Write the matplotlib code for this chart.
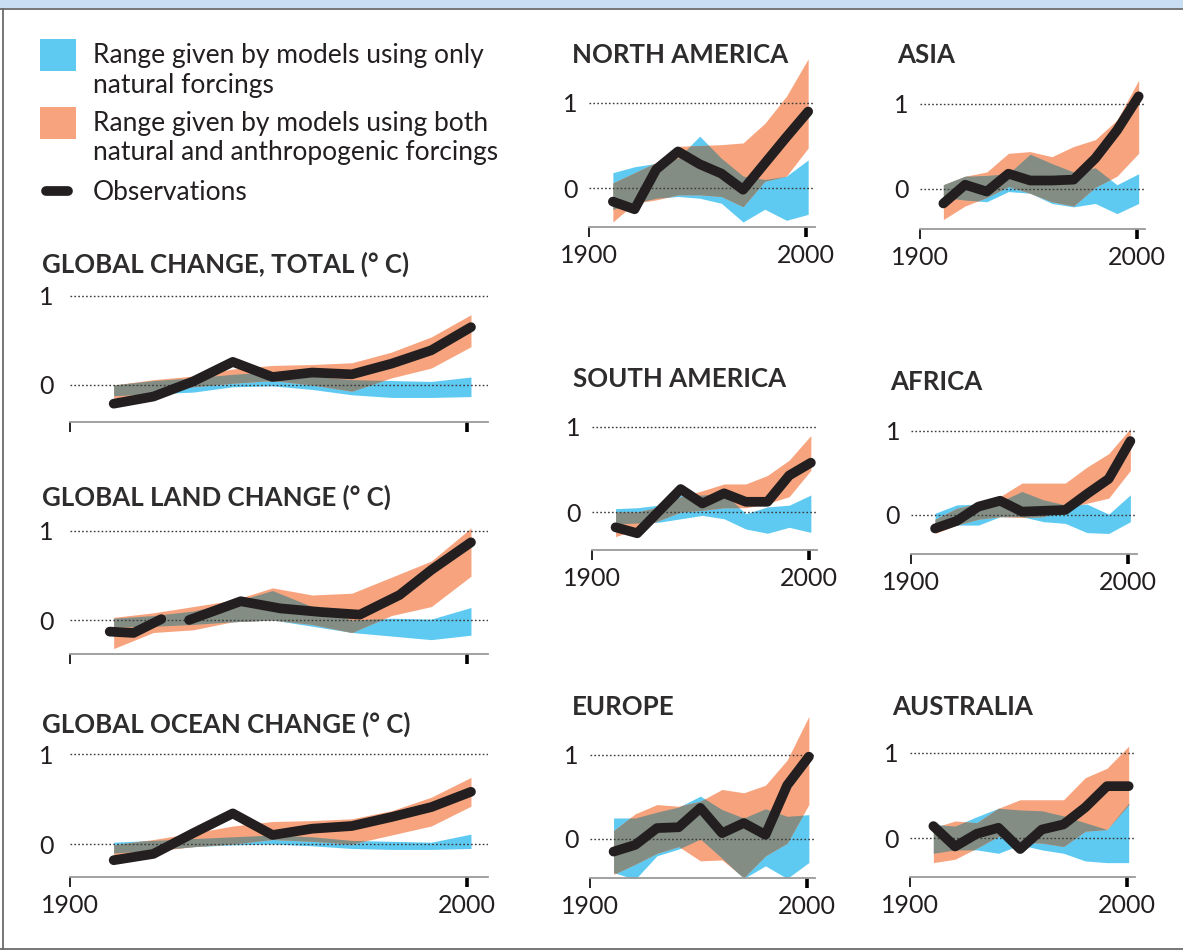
import numpy as np
import matplotlib
matplotlib.use("Agg")
import matplotlib.pyplot as plt
from matplotlib.lines import Line2D
from matplotlib.patches import Rectangle

plt.rcParams['font.family'] = ['Lato', 'DejaVu Sans']

W, H, DPI = 1183, 951, 100

BLUE = '#5ECAF2'
ORANGE = '#F7A47E'
OVERLAP = '#838D84'
OBS_COLOR = '#231F20'
TEXT = '#231F20'
TITLE = '#2E2C2D'

# ---------------------------------------------------------------- data
DECADES = [1911, 1921, 1931, 1941, 1951, 1961, 1971, 1981, 1991, 2001]

# Global, total
GT_OBS    = [-0.21, -0.13, 0.04, 0.26, 0.09, 0.14, 0.12, 0.24, 0.39, 0.65]
GT_NAT_LO = [-0.12, -0.10, -0.08, -0.02, -0.01, -0.05, -0.11, -0.14, -0.14, -0.13]
GT_NAT_HI = [0.00, 0.05, 0.08, 0.12, 0.15, 0.10, 0.06, 0.05, 0.04, 0.09]
GT_ALL_LO = [-0.15, -0.08, -0.02, 0.02, 0.05, 0.00, -0.07, 0.08, 0.19, 0.43]
GT_ALL_HI = [0.00, 0.06, 0.10, 0.18, 0.22, 0.23, 0.25, 0.37, 0.54, 0.79]

# Global, land (observed record has a break in the 1920s)
GL_OBS_YEARS = [1910, 1916, 1923, 1926, 1930, 1943, 1953, 1963, 1973, 1983, 1991, 2001]
GL_OBS    = [-0.13, -0.145, 0.01, np.nan, 0.00, 0.21, 0.13, 0.09, 0.06, 0.28, 0.56, 0.87]
GL_NAT_LO = [-0.08, -0.07, -0.05, -0.02, 0.00, -0.07, -0.14, -0.18, -0.22, -0.17]
GL_NAT_HI = [0.02, 0.05, 0.10, 0.20, 0.33, 0.15, 0.00, 0.02, 0.01, 0.14]
GL_ALL_LO = [-0.32, -0.14, -0.11, -0.02, 0.00, -0.05, -0.14, 0.05, 0.15, 0.49]
GL_ALL_HI = [0.03, 0.08, 0.15, 0.22, 0.36, 0.28, 0.30, 0.48, 0.66, 1.03]

# Global, ocean
GO_OBS    = [-0.18, -0.11, 0.12, 0.34, 0.10, 0.17, 0.20, 0.30, 0.41, 0.58]
GO_NAT_LO = [-0.10, -0.07, -0.03, -0.01, 0.00, -0.02, -0.05, -0.06, -0.06, -0.05]
GO_NAT_HI = [0.02, 0.04, 0.06, 0.08, 0.10, 0.08, 0.04, 0.03, 0.02, 0.11]
GO_ALL_LO = [-0.12, -0.08, -0.03, 0.00, 0.05, 0.03, 0.00, 0.10, 0.20, 0.42]
GO_ALL_HI = [-0.01, 0.05, 0.12, 0.20, 0.25, 0.26, 0.28, 0.37, 0.52, 0.74]

# North America
NA_OBS    = [-0.16, -0.25, 0.22, 0.43, 0.28, 0.17, -0.02, 0.29, 0.60, 0.90]
NA_NAT_LO = [-0.25, -0.18, -0.12, -0.10, -0.12, -0.18, -0.40, -0.25, -0.38, -0.31]
NA_NAT_HI = [0.18, 0.25, 0.29, 0.35, 0.61, 0.35, 0.14, 0.10, 0.14, 0.33]
NA_ALL_LO = [-0.40, -0.18, -0.14, -0.08, -0.08, -0.10, -0.22, 0.08, 0.14, 0.47]
NA_ALL_HI = [0.06, 0.18, 0.30, 0.49, 0.50, 0.51, 0.53, 0.76, 1.08, 1.52]

# Asia
AS_OBS    = [-0.17, 0.05, -0.03, 0.18, 0.10, 0.10, 0.11, 0.36, 0.69, 1.09]
AS_NAT_LO = [-0.10, -0.13, -0.15, -0.03, -0.05, -0.17, -0.21, -0.17, -0.29, -0.17]
AS_NAT_HI = [0.05, 0.15, 0.16, 0.18, 0.41, 0.30, 0.20, 0.25, 0.05, 0.18]
AS_ALL_LO = [-0.36, -0.20, -0.10, 0.03, -0.05, -0.15, -0.20, 0.02, 0.15, 0.42]
AS_ALL_HI = [0.05, 0.15, 0.20, 0.42, 0.44, 0.38, 0.50, 0.58, 0.81, 1.28]

# South America
SA_OBS    = [-0.18, -0.25, 0.01, 0.27, 0.10, 0.22, 0.12, 0.12, 0.43, 0.58]
SA_NAT_LO = [-0.14, -0.13, -0.12, -0.08, -0.04, -0.08, -0.20, -0.25, -0.18, -0.24]
SA_NAT_HI = [0.04, 0.05, 0.08, 0.20, 0.20, 0.22, -0.02, 0.06, 0.08, 0.20]
SA_ALL_LO = [-0.29, -0.20, -0.10, 0.00, 0.02, 0.05, 0.05, 0.10, 0.18, 0.49]
SA_ALL_HI = [0.00, 0.00, 0.06, 0.18, 0.25, 0.33, 0.33, 0.43, 0.61, 0.90]

# Africa
AF_OBS    = [-0.16, -0.07, 0.10, 0.17, 0.04, 0.05, 0.06, 0.25, 0.43, 0.88]
AF_NAT_LO = [-0.18, -0.12, -0.12, -0.02, -0.02, -0.08, -0.10, -0.21, -0.22, -0.08]
AF_NAT_HI = [0.02, 0.12, 0.13, 0.16, 0.28, 0.18, 0.12, 0.13, 0.01, 0.24]
AF_ALL_LO = [-0.22, -0.12, -0.05, -0.02, -0.03, -0.02, 0.08, 0.14, 0.20, 0.53]
AF_ALL_HI = [-0.05, 0.08, 0.14, 0.22, 0.38, 0.38, 0.38, 0.57, 0.73, 1.03]

# Europe
EU_OBS    = [-0.15, -0.07, 0.13, 0.14, 0.37, 0.07, 0.19, 0.05, 0.64, 0.98]
EU_NAT_LO = [-0.40, -0.48, -0.20, -0.12, 0.00, -0.23, -0.47, -0.32, -0.47, -0.28]
EU_NAT_HI = [0.25, 0.25, 0.32, 0.38, 0.51, 0.35, 0.25, 0.36, 0.27, 0.29]
EU_ALL_LO = [-0.42, -0.30, -0.17, -0.09, -0.26, -0.25, -0.46, -0.20, -0.05, 0.41]
EU_ALL_HI = [0.10, 0.30, 0.41, 0.39, 0.45, 0.59, 0.55, 0.64, 0.94, 1.46]

# Australia
AU_OBS    = [0.14, -0.10, 0.05, 0.12, -0.13, 0.10, 0.16, 0.36, 0.61, 0.61]
AU_NAT_LO = [-0.18, -0.14, -0.14, -0.18, -0.08, -0.14, -0.18, -0.27, -0.29, -0.29]
AU_NAT_HI = [0.16, 0.14, 0.25, 0.35, 0.33, 0.32, 0.26, 0.18, 0.10, 0.41]
AU_ALL_LO = [-0.29, -0.25, -0.12, 0.02, -0.05, -0.06, -0.10, 0.08, 0.10, 0.39]
AU_ALL_HI = [0.12, 0.20, 0.18, 0.35, 0.45, 0.45, 0.45, 0.71, 0.82, 1.08]

LEGEND_LABELS = [
    ["Range given by models using only", "natural forcings"],
    ["Range given by models using both", "natural and anthropogenic forcings"],
    ["Observations"],
]

# ---------------------------------------------------------------- figure
fig = plt.figure(figsize=(W / DPI, H / DPI), dpi=DPI)
fig.patch.set_facecolor('white')


def fx(px):
    return px / W


def fy(py):
    return 1 - py / H


# page frame: pale band at the top, thin rules on top, left and bottom
fig.add_artist(Rectangle((0, fy(8)), 1, 8 / H, transform=fig.transFigure,
                         facecolor='#C9DEF2', edgecolor='none'))
fig.add_artist(Line2D([0, 1], [fy(8.5), fy(8.5)], transform=fig.transFigure,
                      color='#6B6B6B', lw=1.3))
fig.add_artist(Line2D([fx(2.5), fx(2.5)], [fy(8.5), fy(948.5)], transform=fig.transFigure,
                      color='#6B6B6B', lw=1.3))
fig.add_artist(Line2D([0, 1], [fy(948.5), fy(948.5)], transform=fig.transFigure,
                      color='#6B6B6B', lw=1.3))

# legend
fig.add_artist(Rectangle((fx(40), fy(71)), 36 / W, 32 / H, transform=fig.transFigure,
                         facecolor=BLUE, edgecolor='none'))
fig.add_artist(Rectangle((fx(40), fy(139)), 36 / W, 32 / H, transform=fig.transFigure,
                         facecolor=ORANGE, edgecolor='none'))
fig.add_artist(Line2D([fx(46), fx(68)], [fy(191), fy(191)], transform=fig.transFigure,
                      color=OBS_COLOR, lw=7, solid_capstyle='round'))
legend_baselines = [[63, 93], [131, 160], [200]]
for lines, bases in zip(LEGEND_LABELS, legend_baselines):
    for txt, b in zip(lines, bases):
        fig.text(fx(93), fy(b), txt, fontsize=19, color=TEXT, va='baseline', ha='left')


def add_panel(x1900, px_per_year, y_zero, px_per_unit, xlim, ylim):
    left = x1900 + (xlim[0] - 1900) * px_per_year
    right = x1900 + (xlim[1] - 1900) * px_per_year
    top = y_zero - ylim[1] * px_per_unit
    bottom = y_zero - ylim[0] * px_per_unit
    ax = fig.add_axes([fx(left), fy(bottom), (right - left) / W, (bottom - top) / H])
    ax.set_xlim(*xlim)
    ax.set_ylim(*ylim)
    ax.patch.set_alpha(0)
    return ax


def draw(ax, years, nat_lo, nat_hi, all_lo, all_hi, obs_years, obs, show_years, ypad):
    x = np.asarray(years, float)
    nl, nh = np.asarray(nat_lo), np.asarray(nat_hi)
    al, ah = np.asarray(all_lo), np.asarray(all_hi)
    ax.fill_between(x, nl, nh, color=BLUE, lw=0, zorder=1)
    ax.fill_between(x, al, ah, color=ORANGE, lw=0, zorder=1.5)
    # region covered by both ranges, evaluated along the piecewise-linear edges
    xf = np.linspace(x[0], x[-1], 600)
    lo = np.maximum(np.interp(xf, x, nl), np.interp(xf, x, al))
    hi = np.minimum(np.interp(xf, x, nh), np.interp(xf, x, ah))
    ax.fill_between(xf, lo, hi, where=hi > lo, interpolate=True,
                    color=OVERLAP, lw=0, zorder=2)
    for yv in (0, 1):
        ax.axhline(yv, color='#3A3A3A', lw=1.0, ls=(0, (1.2, 1.6)), zorder=3)
    ax.plot(obs_years, obs, color=OBS_COLOR, lw=7, solid_capstyle='round',
            solid_joinstyle='round', zorder=5, clip_on=False)

    for side in ('left', 'right', 'top'):
        ax.spines[side].set_visible(False)
    ax.spines['bottom'].set_color('#9A9A9A')
    ax.spines['bottom'].set_linewidth(1.3)
    ax.set_yticks([0, 1])
    ax.set_yticklabels(['0', '1'])
    ax.tick_params(axis='y', length=0, pad=ypad, labelsize=18, labelcolor=TEXT)
    ax.set_xticks([1900, 2000])
    ax.set_xticklabels(['1900', '2000'])
    ax.tick_params(axis='x', direction='out', length=7.5, pad=5, labelsize=18,
                   labelcolor=TEXT, labelbottom=show_years)
    ticks = ax.xaxis.get_major_ticks()
    ticks[0].tick1line.set_markeredgewidth(1.2)
    ticks[0].tick1line.set_color('#8A8A8A')
    ticks[1].tick1line.set_markeredgewidth(2.6)
    ticks[1].tick1line.set_color('#1E1E1E')


TITLE_STYLE = dict(fontsize=18.6, fontweight='bold', color=TITLE, va='baseline', ha='left')

# global panels: (title, title baseline, zero row, px per degree, ymin, data..., year labels)
GLOBAL_X1900, GLOBAL_PXY = 70, 3.97
global_panels = [
    ("GLOBAL CHANGE, TOTAL (° C)", 273, 385, 89.0, -0.416,
     (GT_NAT_LO, GT_NAT_HI, GT_ALL_LO, GT_ALL_HI, DECADES, GT_OBS), False),
    ("GLOBAL LAND CHANGE (° C)", 506, 620, 89.3, -0.38,
     (GL_NAT_LO, GL_NAT_HI, GL_ALL_LO, GL_ALL_HI, GL_OBS_YEARS, GL_OBS), False),
    ("GLOBAL OCEAN CHANGE (° C)", 733, 844, 90.0, -0.367,
     (GO_NAT_LO, GO_NAT_HI, GO_ALL_LO, GO_ALL_HI, DECADES, GO_OBS), True),
]
for title, tb, yz, ppu, ymin, d, show in global_panels:
    ax = add_panel(GLOBAL_X1900, GLOBAL_PXY, yz, ppu, (1900, 2005.3), (ymin, 1.15))
    draw(ax, DECADES, d[0], d[1], d[2], d[3], d[4], d[5], show, 12)
    fig.text(fx(42), fy(tb), title, **TITLE_STYLE)

# regional panels
REGION_PXY = 2.17
regional_panels = [
    ("NORTH AMERICA", 572, 63, 589.0, 188, 85, -0.459,
     (NA_NAT_LO, NA_NAT_HI, NA_ALL_LO, NA_ALL_HI, NA_OBS)),
    ("ASIA", 897, 63, 919.5, 189, 85, -0.47,
     (AS_NAT_LO, AS_NAT_HI, AS_ALL_LO, AS_ALL_HI, AS_OBS)),
    ("SOUTH AMERICA", 573, 387, 591.7, 512, 85, -0.447,
     (SA_NAT_LO, SA_NAT_HI, SA_ALL_LO, SA_ALL_HI, SA_OBS)),
    ("AFRICA", 890, 390, 911.2, 515, 84, -0.464,
     (AF_NAT_LO, AF_NAT_HI, AF_ALL_LO, AF_ALL_HI, AF_OBS)),
    ("EUROPE", 572, 715, 589.7, 839, 84, -0.464,
     (EU_NAT_LO, EU_NAT_HI, EU_ALL_LO, EU_ALL_HI, EU_OBS)),
    ("AUSTRALIA", 892, 715, 909.5, 838, 85, -0.459,
     (AU_NAT_LO, AU_NAT_HI, AU_ALL_LO, AU_ALL_HI, AU_OBS)),
]
for title, tx, tb, x1900, yz, ppu, ymin, d in regional_panels:
    ax = add_panel(x1900, REGION_PXY, yz, ppu, (1900, 2004), (ymin, 1.6))
    draw(ax, DECADES, d[0], d[1], d[2], d[3], DECADES, d[4], True, 8)
    fig.text(fx(tx), fy(tb), title, **TITLE_STYLE)

fig.savefig('out.png', dpi=DPI, facecolor='white')
